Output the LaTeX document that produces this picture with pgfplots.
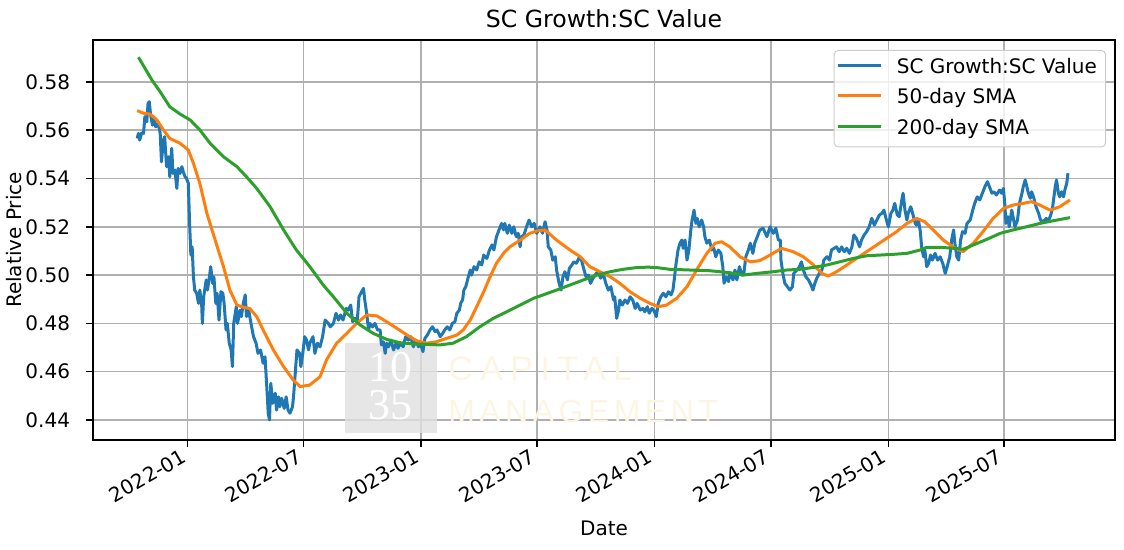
\documentclass[border=0pt]{standalone}
\usepackage{fontspec}
\setmainfont{DejaVu Sans}
\newfontfamily\wmserif{Liberation Serif}
\newfontfamily\wmcap[LetterSpace=22]{Liberation Sans}
\newfontfamily\wmman[LetterSpace=14]{Liberation Sans}
\usepackage{pgfplots}
\usepackage{pgfplotstable}
\pgfplotsset{compat=1.18}
\definecolor{mplblue}{HTML}{1F77B4}
\definecolor{mplorange}{HTML}{FF7F0E}
\definecolor{mplgreen}{HTML}{2CA02C}
\definecolor{gridgray}{HTML}{B0B0B0}
\definecolor{wmbox}{HTML}{E0E0E0}
\definecolor{wmtext}{HTML}{FCF5E3}
\definecolor{legframe}{HTML}{CCCCCC}

\pgfplotstableread{
day val
-79 0.5566
-77 0.5587
-75 0.5559
-72 0.5589
-69 0.5587
-67 0.5656
-64 0.5635
-62 0.5711
-60 0.5718
-58 0.5663
-55 0.5621
-53 0.5656
-50 0.5614
-46 0.5628
-43 0.5587
-41 0.5469
-38 0.5559
-36 0.5573
-33 0.5449
-30 0.5490
-28 0.5407
-25 0.5525
-23 0.5421
-20 0.5435
-17 0.5359
-15 0.5442
-12 0.5421
-9 0.5449
-7 0.5428
-4 0.5407
-2 0.5401
1 0.5380
3 0.5214
5 0.5083
7 0.5117
9 0.4993
11 0.4938
14 0.4925
17 0.4883
19 0.4938
22 0.4869
23 0.4800
25 0.4910
29 0.4980
31 0.4938
34 0.4993
36 0.5035
39 0.4966
41 0.4993
44 0.4883
46 0.4925
49 0.4814
52 0.4931
55 0.4925
57 0.4883
60 0.4773
62 0.4800
65 0.4718
68 0.4690
70 0.4621
72 0.4800
76 0.4869
78 0.4800
82 0.4855
84 0.4828
87 0.4883
90 0.4918
92 0.4828
95 0.4862
99 0.4800
103 0.4745
107 0.4718
110 0.4676
114 0.4690
118 0.4635
121 0.4662
124 0.4524
126 0.4428
128 0.4400
130 0.4552
133 0.4469
137 0.4511
139 0.4441
142 0.4496
144 0.4455
147 0.4490
151 0.4448
154 0.4496
157 0.4441
160 0.4428
164 0.4455
166 0.4511
169 0.4621
171 0.4690
175 0.4676
177 0.4621
180 0.4676
183 0.4745
186 0.4731
189 0.4690
191 0.4718
196 0.4745
199 0.4676
203 0.4718
207 0.4703
211 0.4745
215 0.4814
220 0.4800
223 0.4786
228 0.4800
232 0.4842
236 0.4814
239 0.4835
243 0.4814
248 0.4862
251 0.4855
255 0.4876
258 0.4807
262 0.4821
265 0.4800
268 0.4910
272 0.4931
275 0.4945
277 0.4897
280 0.4842
283 0.4773
285 0.4800
289 0.4786
293 0.4800
297 0.4773
301 0.4773
303 0.4711
306 0.4724
309 0.4676
311 0.4718
314 0.4703
318 0.4731
322 0.4690
326 0.4718
329 0.4697
333 0.4718
337 0.4703
341 0.4745
345 0.4731
349 0.4745
353 0.4703
357 0.4731
361 0.4703
364 0.4718
368 0.4683
371 0.4738
375 0.4752
379 0.4773
383 0.4786
387 0.4766
390 0.4773
395 0.4745
399 0.4759
402 0.4773
406 0.4786
410 0.4773
414 0.4800
418 0.4807
421 0.4842
425 0.4855
427 0.4883
430 0.4897
432 0.4938
435 0.4952
439 0.4993
442 0.5021
444 0.5000
448 0.5035
452 0.5021
456 0.5055
460 0.5042
463 0.5083
468 0.5069
472 0.5104
476 0.5125
479 0.5104
483 0.5159
487 0.5187
491 0.5214
494 0.5187
496 0.5214
500 0.5173
503 0.5207
507 0.5173
510 0.5200
514 0.5159
517 0.5173
520 0.5117
522 0.5159
526 0.5166
530 0.5200
534 0.5228
538 0.5200
542 0.5214
546 0.5173
551 0.5200
555 0.5173
559 0.5221
562 0.5187
564 0.5117
568 0.5104
571 0.5062
575 0.5076
577 0.5021
581 0.4966
584 0.4938
587 0.4993
590 0.5014
594 0.4980
597 0.5028
601 0.5042
604 0.5055
608 0.5049
613 0.5076
616 0.5062
620 0.5021
623 0.4993
627 0.5000
630 0.4966
634 0.4987
639 0.5007
642 0.5014
646 0.4987
650 0.5007
654 0.4966
658 0.4938
662 0.4952
666 0.4897
668 0.4910
671 0.4821
674 0.4855
676 0.4897
680 0.4876
684 0.4897
688 0.4883
692 0.4910
696 0.4897
700 0.4862
703 0.4883
708 0.4855
712 0.4862
715 0.4848
719 0.4869
722 0.4842
726 0.4862
729 0.4855
733 0.4828
736 0.4883
740 0.4910
744 0.4925
748 0.4910
752 0.4931
756 0.4918
759 0.4938
761 0.4980
764 0.5049
767 0.5104
770 0.5132
773 0.5145
775 0.5111
778 0.5145
781 0.5062
784 0.5104
787 0.5187
789 0.5228
792 0.5269
795 0.5214
797 0.5235
800 0.5200
804 0.5228
807 0.5200
809 0.5159
812 0.5132
816 0.5145
820 0.5104
823 0.5111
826 0.5076
830 0.5104
834 0.5090
837 0.5035
839 0.4966
842 0.4993
846 0.4973
848 0.5007
853 0.4980
856 0.5021
859 0.4980
863 0.5035
867 0.5000
870 0.5007
873 0.5076
877 0.5104
880 0.5132
884 0.5090
887 0.5132
891 0.5159
895 0.5187
900 0.5194
906 0.5159
911 0.5200
916 0.5173
920 0.5194
924 0.5145
927 0.5145
928 0.5062
931 0.5007
934 0.4966
938 0.4952
942 0.4938
946 0.4952
948 0.5007
953 0.5021
957 0.5035
960 0.5055
963 0.5021
967 0.4993
971 0.4980
975 0.4959
978 0.4938
981 0.4966
984 0.4987
988 0.5007
992 0.5021
995 0.5062
1000 0.5076
1004 0.5062
1007 0.5104
1011 0.5111
1015 0.5117
1019 0.5097
1023 0.5117
1027 0.5097
1031 0.5111
1035 0.5090
1039 0.5117
1042 0.5166
1046 0.5152
1051 0.5117
1054 0.5145
1058 0.5166
1062 0.5180
1066 0.5200
1070 0.5235
1074 0.5207
1078 0.5228
1082 0.5249
1086 0.5256
1089 0.5269
1093 0.5228
1096 0.5200
1100 0.5256
1103 0.5269
1106 0.5297
1110 0.5249
1113 0.5242
1117 0.5311
1119 0.5339
1122 0.5269
1125 0.5228
1127 0.5256
1131 0.5283
1134 0.5256
1138 0.5214
1140 0.5207
1143 0.5228
1146 0.5180
1148 0.5117
1151 0.5076
1153 0.5104
1156 0.5035
1159 0.5049
1162 0.5083
1165 0.5062
1169 0.5090
1173 0.5062
1177 0.5076
1181 0.5049
1185 0.5007
1188 0.5035
1192 0.5076
1195 0.5145
1198 0.5187
1200 0.5132
1203 0.5076
1206 0.5062
1209 0.5145
1212 0.5180
1216 0.5173
1219 0.5214
1224 0.5228
1228 0.5269
1231 0.5297
1235 0.5324
1239 0.5311
1243 0.5339
1247 0.5366
1251 0.5387
1254 0.5366
1258 0.5339
1261 0.5345
1265 0.5332
1270 0.5352
1273 0.5339
1276 0.5359
1278 0.5297
1280 0.5214
1283 0.5242
1285 0.5200
1289 0.5269
1291 0.5242
1294 0.5200
1298 0.5228
1301 0.5297
1305 0.5339
1307 0.5366
1310 0.5394
1312 0.5373
1315 0.5339
1318 0.5318
1320 0.5345
1323 0.5324
1327 0.5283
1331 0.5256
1334 0.5228
1338 0.5221
1343 0.5235
1346 0.5221
1350 0.5249
1353 0.5283
1357 0.5366
1359 0.5394
1362 0.5339
1364 0.5324
1367 0.5345
1370 0.5324
1372 0.5352
1375 0.5380
1377 0.5422
}\ratio

\pgfplotstableread{
day val
-79 0.5681
-69 0.5670
-59 0.5667
-48 0.5642
-38 0.5601
-28 0.5566
-12 0.5546
1 0.5518
9 0.5463
19 0.5380
30 0.5256
43 0.5145
56 0.5035
66 0.4938
77 0.4876
87 0.4867
97 0.4862
108 0.4828
118 0.4773
134 0.4690
150 0.4621
165 0.4566
176 0.4538
191 0.4545
207 0.4579
217 0.4648
233 0.4718
249 0.4759
264 0.4800
280 0.4835
296 0.4831
311 0.4807
327 0.4780
343 0.4752
358 0.4728
374 0.4718
389 0.4724
405 0.4738
421 0.4752
431 0.4773
442 0.4814
452 0.4869
462 0.4925
473 0.4993
483 0.5049
494 0.5090
504 0.5117
520 0.5145
535 0.5173
548 0.5184
559 0.5187
577 0.5145
598 0.5104
614 0.5076
629 0.5035
645 0.5014
661 0.4993
676 0.4966
692 0.4931
708 0.4904
723 0.4883
736 0.4869
749 0.4876
765 0.4904
781 0.4952
796 0.5021
812 0.5090
825 0.5132
835 0.5138
848 0.5117
864 0.5076
880 0.5055
895 0.5060
911 0.5083
929 0.5111
947 0.5097
963 0.5076
979 0.5042
992 0.5007
1002 0.4996
1015 0.5014
1031 0.5042
1046 0.5069
1062 0.5097
1078 0.5125
1093 0.5152
1109 0.5180
1125 0.5214
1140 0.5235
1153 0.5221
1166 0.5187
1182 0.5145
1198 0.5115
1213 0.5097
1229 0.5132
1244 0.5180
1260 0.5235
1276 0.5276
1291 0.5290
1307 0.5297
1320 0.5304
1333 0.5290
1349 0.5269
1364 0.5283
1380 0.5311
}\smafifty

\pgfplotstableread{
day val
-77 0.5902
-56 0.5808
-43 0.5759
-28 0.5697
-12 0.5667
4 0.5642
19 0.5601
35 0.5546
56 0.5490
77 0.5449
92 0.5407
108 0.5359
129 0.5283
150 0.5187
170 0.5104
191 0.5035
212 0.4959
228 0.4910
249 0.4842
270 0.4793
290 0.4759
311 0.4734
332 0.4720
353 0.4715
374 0.4713
395 0.4711
415 0.4718
436 0.4745
457 0.4786
478 0.4821
499 0.4848
520 0.4876
541 0.4904
556 0.4918
577 0.4938
598 0.4959
619 0.4980
640 0.5000
661 0.5014
681 0.5024
702 0.5031
720 0.5033
734 0.5031
754 0.5024
786 0.5021
817 0.5018
848 0.5010
869 0.5000
890 0.5007
916 0.5014
937 0.5021
958 0.5024
979 0.5032
1000 0.5042
1020 0.5055
1041 0.5069
1062 0.5080
1083 0.5083
1104 0.5086
1125 0.5090
1146 0.5104
1156 0.5115
1177 0.5115
1198 0.5111
1213 0.5107
1229 0.5125
1250 0.5148
1271 0.5173
1291 0.5187
1312 0.5200
1333 0.5214
1354 0.5225
1380 0.5238
}\smatwohundred

\begin{document}
\begin{tikzpicture}
\begin{axis}[
  name=ax,
  scale only axis,
  width=511pt, height=200pt,
  xmin=-148.1, xmax=1450.5,
  ymin=0.43172, ymax=0.59735,
  xtick={0,181,365,546,730,912,1096,1277},
  xticklabels={2022-01,2022-07,2023-01,2023-07,2024-01,2024-07,2025-01,2025-07},
  ytick={0.44,0.46,0.48,0.50,0.52,0.54,0.56,0.58},
  /pgf/number format/fixed,
  /pgf/number format/fixed zerofill,
  /pgf/number format/precision=2,
  /pgf/number format/assume math mode=true,
  tick pos=left,
  tick align=outside,
  major tick length=3.3pt,
  tick style={black, line width=0.8pt},
  axis line style={black, line width=0.9pt},
  grid=major,
  grid style={gridgray, line width=0.8pt},
  tick label style={font=\fontsize{10}{12}\selectfont},
  xticklabel style={yshift=-7.25pt, rotate=30, anchor=base east, inner sep=0pt},
  yticklabel style={anchor=east, inner sep=0pt, xshift=-8pt},
  title={SC Growth:SC Value},
  title style={font=\fontsize{11.8}{14}\selectfont, at={(axis description cs:0.5,1)}, anchor=base, yshift=0.35pt, inner sep=0pt},
  xlabel={Date},
  xlabel style={font=\fontsize{10}{12}\selectfont, at={(axis description cs:0.5,0)}, anchor=center, yshift=-44pt},
  ylabel={Relative Price},
  ylabel style={font=\fontsize{10}{12}\selectfont, at={(axis description cs:-0.0768,0.5)}, anchor=center},
  legend style={at={(axis description cs:1,1)}, anchor=north east, xshift=-4.5pt, yshift=-5pt,
    draw=legframe, line width=0.5pt, rounded corners=2pt, fill=white, fill opacity=0.8, text opacity=1,
    font=\fontsize{10}{12}\selectfont, inner xsep=1pt, inner ysep=1pt, row sep=0pt,
    nodes={inner ysep=2.7pt, inner xsep=3.3pt, text height=7.6pt, text depth=2.4pt}},
  legend cell align=left,
  legend image code/.code={\path (0pt,0pt) (25.5pt,1.4pt); \draw[#1] (0pt,1.4pt) -- (21.5pt,1.4pt);},
  every axis plot/.append style={line width=1.5pt, line join=round},
]
\fill[wmbox, fill opacity=0.8] (axis cs:246,0.43462) rectangle (axis cs:390,0.47188);
\node[anchor=base, text=white, font=\wmserif\fontsize{22}{22}\selectfont, inner sep=0pt] at (axis cs:318,0.45586) {10};
\node[anchor=base, text=white, font=\wmserif\fontsize{22}{22}\selectfont, inner sep=0pt] at (axis cs:318,0.4400) {35};
\node[anchor=base west, text=wmtext, font=\wmcap\fontsize{17}{17}\selectfont, inner sep=0pt] at (axis cs:407,0.45656) {CAPITAL};
\node[anchor=base west, text=wmtext, font=\wmman\fontsize{16}{16}\selectfont, inner sep=0pt] at (axis cs:407,0.43917) {MANAGEMENT};
\addplot[mplblue] table[x=day, y=val] {\ratio};
\addlegendentry{SC Growth:SC Value}
\addplot[mplorange] table[x=day, y=val] {\smafifty};
\addlegendentry{50-day SMA}
\addplot[mplgreen] table[x=day, y=val] {\smatwohundred};
\addlegendentry{200-day SMA}
\end{axis}
\pgfresetboundingbox
\path[use as bounding box] ([xshift=-46.5pt,yshift=-55pt]ax.south west) rectangle ([xshift=4.5pt,yshift=20pt]ax.north east);
\end{tikzpicture}
\end{document}
